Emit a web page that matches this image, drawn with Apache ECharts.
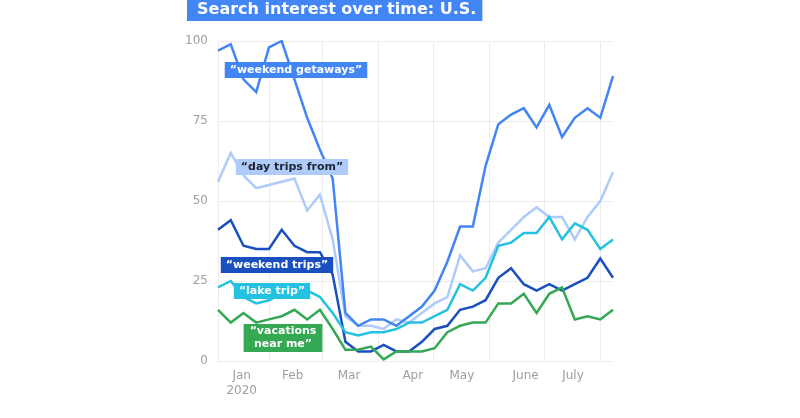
<!DOCTYPE html>
<html><head><meta charset="utf-8">
<script src="https://cdn.jsdelivr.net/npm/echarts@6/dist/echarts.min.js"></script>
<style>html,body{margin:0;padding:0;background:#fff}#c{width:800px;height:418px}</style>
</head><body><div id="c"></div>
<script>
const weeks = ['2020-01-04','2020-01-11','2020-01-18','2020-01-25','2020-02-01','2020-02-08','2020-02-15','2020-02-22',
  '2020-02-29','2020-03-07','2020-03-14','2020-03-21','2020-03-28','2020-04-04','2020-04-11','2020-04-18',
  '2020-04-25','2020-05-02','2020-05-09','2020-05-16','2020-05-23','2020-05-30','2020-06-06','2020-06-13',
  '2020-06-20','2020-06-27','2020-07-04','2020-07-11','2020-07-18','2020-07-25','2020-08-01','2020-08-08'];
const weekendGetaways = [97,99,88,84,98,100,88,76,66,57,15,11,13,13,11,14,17,22,31,42,42,61,74,77,79,73,80,70,76,79,76,89];
const dayTripsFrom    = [56,65,58,54,55,56,57,47,52,38,14,11,11,10,13,12,15,18,20,33,28,29,37,41,45,48,45,45,38,45,50,59];
const weekendTrips    = [41,44,36,35,35,41,36,34,34,27,6,3,3,5,3,3,6,10,11,16,17,19,26,29,24,22,24,22,24,26,32,26];
const lakeTrip        = [23,25,20,18,19,21,22,22,20,15,9,8,9,9,10,12,12,14,16,24,22,26,36,37,40,40,45,38,43,41,35,38];
const vacationsNearMe = [16,12,15,12,13,14,16,13,16,10,3.5,3.5,4.5,0.5,3,3,3,4,9,11,12,12,18,18,21,15,21,23,13,14,13,16];

const monthStarts = ['2020-02-01','2020-03-01','2020-04-01','2020-05-01','2020-06-01','2020-07-01','2020-08-01'];
const monthLabels = ['Jan\n2020','Feb','Mar','Apr','May','June','July'];
const monthLabelDates = ['2020-01-17','2020-02-14','2020-03-16','2020-04-20','2020-05-17','2020-06-21','2020-07-17'];
const titleText = 'Search interest over time: U.S.';

const ts = s => Date.parse(s + 'T00:00:00Z');
const labelTs = monthLabelDates.map(ts);
const mk = arr => weeks.map((w,i) => [ts(w), arr[i]]);
const FONT = '"DejaVu Sans", sans-serif';

const seriesDefs = [
  {name:'day trips from', data: dayTripsFrom, color:'#aecbfa'},
  {name:'weekend getaways', data: weekendGetaways, color:'#4285f4'},
  {name:'weekend trips', data: weekendTrips, color:'#1a4fbf'},
  {name:'lake trip', data: lakeTrip, color:'#24c1e0'},
  {name:'vacations near me', data: vacationsNearMe, color:'#34a853'}
];

const chart = echarts.init(document.getElementById('c'), null, {renderer:'canvas'});
const labelBox = (text, cx, top, bg, fg, pad) => ({
  type:'text', x: cx, y: top, z: 100,
  style:{text, fill: fg, backgroundColor: bg, padding: pad || [2,5,1,5],
    font: 'bold 11px ' + FONT, align:'center', verticalAlign:'top', lineHeight: 13}
});
chart.setOption({
  animation:false,
  backgroundColor:'#ffffff',
  title:{text:titleText, left:187, top:-1, backgroundColor:'#4285f4', padding:[3,6,3,10],
    textStyle:{color:'#ffffff', fontWeight:'bold', fontSize:16, fontFamily:FONT}},
  grid:{left:218, right:187, top:41, bottom:57},
  xAxis:{type:'value', min: ts(weeks[0]), max: ts(weeks[weeks.length-1]),
    axisLine:{show:false},
    axisTick:{show:false, customValues: monthStarts.map(ts)},
    splitLine:{show:true, lineStyle:{color:'#ececec', width:1}},
    axisLabel:{customValues: labelTs, color:'#9e9e9e', fontSize:12, fontFamily:FONT, margin:7, lineHeight:15,
      formatter: v => { let bi=0; labelTs.forEach((x,i)=>{ if (Math.abs(x-v) < Math.abs(labelTs[bi]-v)) bi=i; }); return monthLabels[bi]; }}
  },
  yAxis:{type:'value', min:0, max:100, interval:25,
    axisLine:{show:true, lineStyle:{color:'#ececec'}},
    axisTick:{show:false},
    splitLine:{lineStyle:{color:'#ececec'}},
    axisLabel:{color:'#9e9e9e', fontSize:12, fontFamily:FONT, margin:10}
  },
  series: seriesDefs.map(s => ({
    type:'line', name:s.name, data: mk(s.data), showSymbol:false, symbol:'none',
    lineStyle:{color:s.color, width:2.5, join:'miter'}, itemStyle:{color:s.color}
  })),
  graphic: [
    labelBox('“weekend getaways”', 296, 62, '#4285f4', '#ffffff'),
    labelBox('“day trips from”', 292, 159, '#aecbfa', '#1f2433'),
    labelBox('“weekend trips”', 277, 257, '#1a4fbf', '#ffffff'),
    labelBox('“lake trip”', 272, 283, '#24c1e0', '#ffffff'),
    labelBox('“vacations\nnear me”', 283, 324, '#34a853', '#ffffff', [1,6,1,6])
  ]
});
</script></body></html>
